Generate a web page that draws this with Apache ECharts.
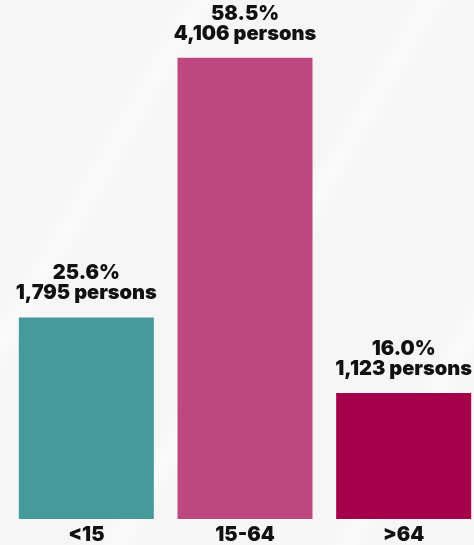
<!DOCTYPE html>
<html>
<head>
<meta charset="utf-8">
<script src="https://cdn.jsdelivr.net/npm/echarts@6/dist/echarts.min.js"></script>
<style>
  html, body { margin: 0; padding: 0; }
  body {
    width: 474px; height: 545px;
    background: #f6f6f6;
    background-image: repeating-linear-gradient(-60deg, rgba(255,255,255,0) 0px, rgba(255,255,255,0) 90px, rgba(255,255,255,0.55) 110px, rgba(255,255,255,0) 130px, rgba(255,255,255,0) 200px);
  }
  #chart { width: 474px; height: 545px; }
</style>
</head>
<body>
<div id="chart"></div>
<script>
const categories = ['<15', '15-64', '>64'];
const persons = [1795, 4106, 1123];
const percents = ['25.6%', '58.5%', '16.0%'];
const colors = ['#469a9b', '#bd4880', '#a5004a'];

const chart = echarts.init(document.getElementById('chart'));
const fontFamily = 'Inter, "Noto Sans", sans-serif';
chart.setOption({
  backgroundColor: 'transparent',
  animation: false,
  grid: { left: 7, width: 476, top: 8, bottom: 26, outerBoundsMode: 'none', containLabel: false },
  xAxis: {
    type: 'category',
    data: categories,
    axisLine: { show: false },
    axisTick: { show: false },
    axisLabel: {
      margin: 6,
      color: '#111',
      fontFamily: fontFamily,
      fontWeight: 900,
      fontSize: 20
    }
  },
  yAxis: {
    type: 'value',
    min: 0,
    max: 4550,
    show: false,
    splitLine: { show: false }
  },
  series: [{
    type: 'bar',
    barWidth: 135,
    data: persons.map((v, i) => ({ value: v, itemStyle: { color: colors[i] } })),
    label: {
      show: true,
      position: 'top',
      distance: 14,
      color: '#111',
      fontFamily: fontFamily,
      fontWeight: 900,
      fontSize: 20,
      lineHeight: 20,
      formatter: p => percents[p.dataIndex] + '\n' + p.value.toLocaleString('en-US') + ' persons'
    }
  }]
});
</script>
</body>
</html>
